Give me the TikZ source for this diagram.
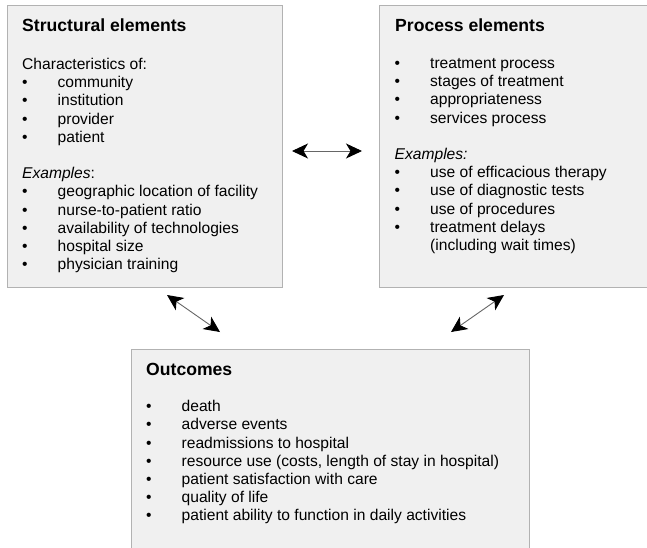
\documentclass[tikz,border=0pt]{standalone}
\usepackage{fontspec}
\setmainfont{Liberation Sans}
\usetikzlibrary{arrows.meta}
\newcommand{\itm}[1]{\makebox[35.5pt][l]{\textbullet}#1}
\tikzset{
  elembox/.style={draw=black!30, line width=1.4pt, fill=black!6, anchor=north west, inner sep=0pt},
  boxtitle/.style={anchor=base west, inner sep=0pt, font=\fontsize{17.6}{21}\selectfont\bfseries},
  boxtext/.style={anchor=base west, inner sep=0pt, font=\fontsize{15.6}{18.2}\selectfont},
  bigtip/.tip={Stealth[length=16pt,width=15pt,inset=4.5pt,color=black]},
  link/.style={bigtip-bigtip, draw=black!60, line width=0.9pt},
}
\begin{document}
\begin{tikzpicture}[x=1pt,y=-1pt]
\clip (0,0) rectangle (647,547);
\node[elembox, minimum width=275pt, minimum height=282pt] (struct) at (7,5) {};
\node[elembox, minimum width=285pt, minimum height=282pt] (proc) at (379,5) {};
\node[elembox, minimum width=398pt, minimum height=215pt] (outc) at (131,349) {};

\node[boxtitle] (structtitle) at (22,31) {Structural elements};
\node[boxtext] (structtext) at (22,69.5) {\parbox[t]{255pt}{Characteristics of:\\
\itm{community}\\
\itm{institution}\\
\itm{provider}\\
\itm{patient}\\[18.2pt]
\textit{Examples}:\\
\itm{geographic location of facility}\\
\itm{nurse-to-patient ratio}\\
\itm{availability of technologies}\\
\itm{hospital size}\\
\itm{physician training}}};

\node[boxtitle] (proctitle) at (395,31) {Process elements};
\node[boxtext] (proctext) at (394.5,68.5) {\parbox[t]{245pt}{\itm{treatment process}\\
\itm{stages of treatment}\\
\itm{appropriateness}\\
\itm{services process}\\[18.2pt]
\textit{Examples:}\\
\itm{use of efficacious therapy}\\
\itm{use of diagnostic tests}\\
\itm{use of procedures}\\
\itm{treatment delays}\\
\hspace*{35.5pt}(including wait times)}};

\node[boxtitle] (outctitle) at (146,375) {Outcomes};
\node[boxtext] (outctext) at (146,411.7) {\parbox[t]{375pt}{\itm{death}\\
\itm{adverse events}\\
\itm{readmissions to hospital}\\
\itm{resource use (costs, length of stay in hospital)}\\
\itm{patient satisfaction with care}\\
\itm{quality of life}\\
\itm{patient ability to function in daily activities}}};

\coordinate (sp1) at (292,151);
\coordinate (sp2) at (362,151);
\coordinate (so1) at (167,295);
\coordinate (so2) at (220,332);
\coordinate (po1) at (504,295);
\coordinate (po2) at (451,332);
\draw[link] (sp1) -- (sp2);
\draw[link] (so1) -- (so2);
\draw[link] (po1) -- (po2);
\end{tikzpicture}
\end{document}
